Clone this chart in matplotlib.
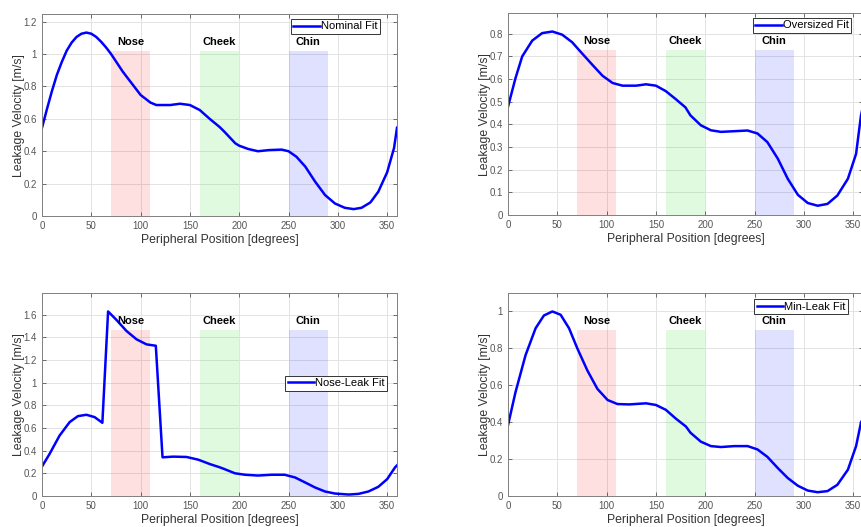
import numpy as np
import matplotlib.pyplot as plt
from matplotlib.ticker import FormatStrFormatter

plt.rcParams['font.family'] = ['Liberation Sans', 'DejaVu Sans']

# Nominal fit (degrees, m/s)
deg_nom = [0, 5, 10, 15, 20, 25, 30, 35, 40, 45, 50, 55, 60, 65, 70, 82, 100,
           110, 116, 130, 140, 150, 160, 170, 180, 185, 196, 200, 209, 219, 230,
           243, 250, 258, 267, 277, 287, 297, 307, 316, 324, 333, 341, 350, 357,
           360]
nominal = [0.545, 0.66, 0.77, 0.87, 0.95, 1.02, 1.07, 1.105, 1.125, 1.132, 1.125,
           1.105, 1.075, 1.04, 1.0, 0.89, 0.747, 0.70, 0.685, 0.685, 0.693, 0.685,
           0.654, 0.60, 0.55, 0.52, 0.449, 0.434, 0.414, 0.40, 0.407, 0.41, 0.40,
           0.366, 0.305, 0.212, 0.13, 0.078, 0.051, 0.043, 0.051, 0.084, 0.15,
           0.27, 0.42, 0.545]

# Oversized fit
deg_over = [0, 7.6, 14.4, 24.6, 34.7, 45, 55, 65, 75, 85.6, 95.8, 106, 116, 130,
            140, 150, 160, 170, 180, 185, 195.6, 205.8, 216, 229.5, 243, 253,
            263, 273.6, 283.7, 294, 304, 314, 324, 334, 344.7, 353, 358, 360]
oversized = [0.478, 0.604, 0.70, 0.77, 0.803, 0.81, 0.796, 0.763, 0.714, 0.663,
             0.615, 0.583, 0.571, 0.571, 0.577, 0.571, 0.547, 0.512, 0.475, 0.44,
             0.396, 0.374, 0.367, 0.37, 0.373, 0.36, 0.322, 0.249, 0.16, 0.089,
             0.053, 0.041, 0.049, 0.086, 0.16, 0.27, 0.44, 0.478]

# Nose-leak fit (has jumps around the nose)
deg_nl = [0, 7.6, 17.8, 28, 36.4, 45, 53.4, 61.2, 67, 75.4, 85.6, 95.8, 106,
          115.4, 122.2, 133, 146.6, 158.5, 170.3, 180.5, 185, 195.6, 205.8, 219,
          233, 246, 256.6, 266.8, 277, 287, 297, 311, 321, 331, 341, 350, 358,
          360]
noseleak = [0.26, 0.37, 0.533, 0.652, 0.705, 0.717, 0.696, 0.646, 1.63, 1.556,
            1.458, 1.384, 1.339, 1.327, 0.341, 0.347, 0.344, 0.32, 0.281, 0.252,
            0.237, 0.20, 0.187, 0.18, 0.187, 0.187, 0.163, 0.119, 0.074, 0.039,
            0.021, 0.012, 0.018, 0.039, 0.08, 0.148, 0.252, 0.27]

# Min-leak fit
deg_min = [0, 7.6, 17.8, 28, 36.4, 45, 53.4, 61.9, 70.3, 80.5, 90.7, 101, 111,
           123, 140, 150, 160, 170, 180.5, 185, 195.6, 205.8, 216, 229.5, 243,
           253, 263, 273.6, 283.7, 294, 304, 314, 324, 334, 344.7, 353, 358, 360]
minleak = [0.383, 0.562, 0.763, 0.909, 0.978, 1.0, 0.982, 0.909, 0.80, 0.68,
           0.58, 0.52, 0.498, 0.496, 0.502, 0.493, 0.467, 0.42, 0.376, 0.343,
           0.294, 0.27, 0.265, 0.27, 0.27, 0.252, 0.212, 0.151, 0.097, 0.055,
           0.029, 0.02, 0.026, 0.06, 0.142, 0.27, 0.398, 0.42]

regions = ['Nose', 'Cheek', 'Chin']
region_start = [70, 160, 250]
region_end = [110, 200, 290]
region_colors = ['#ff0000', '#00dd00', '#0000ff']

# x, y, legend name, y tick step, axes rect, legend loc, legend anchor
panels = [
    (deg_nom, nominal, 'Nominal Fit', 0.2, [0.0488, 0.590, 0.4123, 0.383],
     'upper right', (0.952, 0.975)),
    (deg_over, oversized, 'Oversized Fit', 0.1, [0.590, 0.592, 0.4123, 0.383],
     'upper right', (0.966, 0.975)),
    (deg_nl, noseleak, 'Nose-Leak Fit', 0.2, [0.0488, 0.059, 0.4123, 0.385],
     'center right', (0.972, 0.555)),
    (deg_min, minleak, 'Min-Leak Fit', 0.2, [0.590, 0.059, 0.4123, 0.385],
     'upper right', (0.958, 0.969)),
]

fig = plt.figure(figsize=(8.61, 5.27), dpi=100)

for x, y, name, step, pos, loc, anchor in panels:
    ax = fig.add_axes(pos)
    vmax = max(y)
    for lab, a, b, c in zip(regions, region_start, region_end, region_colors):
        ax.fill_between([a, b], 0, 0.9 * vmax, color=c, alpha=0.12, lw=0)
        ax.text((a + b) / 2, 0.95 * vmax, lab, ha='center', va='center',
                fontsize=8, fontweight='bold')
    ax.plot(x, y, color='#0000ff', lw=1.8, label=name)

    ax.set_xlim(0, 360)
    ax.set_ylim(0, 1.1 * vmax)
    ax.set_xticks(np.arange(0, 351, 50))
    ax.set_yticks(np.arange(0, 1.1 * vmax, step))
    ax.yaxis.set_major_formatter(FormatStrFormatter('%g'))
    ax.grid(True, color='#e3e3e3', lw=0.7)
    ax.set_axisbelow(True)
    ax.tick_params(direction='in', top=True, right=True, labelsize=7,
                   colors='#555555', length=3, width=0.6)
    for s in ax.spines.values():
        s.set_color('#808080')
        s.set_linewidth(0.7)
    ax.set_xlabel('Peripheral Position [degrees]', fontsize=8.8, color='#333333', labelpad=2)
    ax.set_ylabel('Leakage Velocity [m/s]', fontsize=8.8, color='#333333', labelpad=-1)

    leg = ax.legend(loc=loc, bbox_to_anchor=anchor, fontsize=8, fancybox=False,
                    borderaxespad=0, handlelength=2.4, handletextpad=0.1,
                    borderpad=0.2)
    leg.get_frame().set_edgecolor('#333333')
    leg.get_frame().set_linewidth(0.7)
    leg.get_frame().set_alpha(1)

fig.savefig('out.png', dpi=100)
